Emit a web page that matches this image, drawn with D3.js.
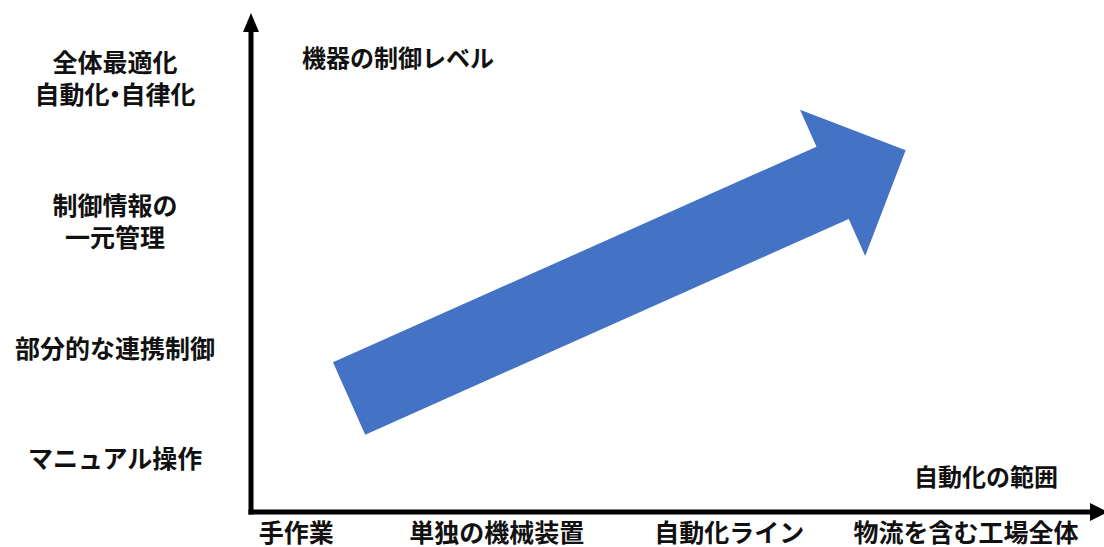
<!DOCTYPE html>
<html>
<head>
<meta charset="utf-8">
<script src="https://cdn.jsdelivr.net/npm/d3@7"></script>
<style>
  body { margin: 0; background: #fff; }
  text { font-family: "Noto Sans CJK JP", "Noto Sans", sans-serif; font-weight: bold; fill: #111; }
</style>
</head>
<body>
<div id="chart"></div>
<script>
// Categories on the horizontal axis (scope of automation) and where they sit
const xCategories = ['手作業', '単独の機械装置', '自動化ライン', '物流を含む工場全体'];
const xCategoryPos = [0.21, 1.15, 2.24, 3.35];

// Levels on the vertical axis (control level), multi-line labels split by \n
const yLevels = ['マニュアル操作', '部分的な連携制御', '制御情報の\n一元管理', '全体最適化\n自動化・自律化'];
const yLevelPos = [0.43, 1.31, 2.33, 3.47];

// Big trend arrow: start (tail centre) and end (tip) in axis units
const trendFrom = [0.46, 0.91];
const trendTo = [3.07, 2.9];

const xTitle = '自動化の範囲';
const yTitle = '機器の制御レベル';

const width = 1104;
const height = 547;
const origin = { x: 251, y: 512 };

const svg = d3.select('#chart')
    .append('svg')
    .attr('width', width)
    .attr('height', height);

// Scales
const xScale = d3.scaleLinear().domain([0, 4]).range([origin.x, 1104]);
const yScale = d3.scaleLinear().domain([0, 4]).range([origin.y, 13]);

// Axis lines with arrow heads
svg.append('line')
    .attr('x1', origin.x).attr('y1', origin.y + 2.5)
    .attr('x2', origin.x).attr('y2', 30)
    .attr('stroke', '#000').attr('stroke-width', 5);
svg.append('path')
    .attr('d', `M${origin.x - 8},32 L${origin.x + 8},32 L${origin.x},13 Z`)
    .attr('fill', '#000');

svg.append('line')
    .attr('x1', origin.x - 2.5).attr('y1', origin.y)
    .attr('x2', 1092).attr('y2', origin.y)
    .attr('stroke', '#000').attr('stroke-width', 5);
svg.append('path')
    .attr('d', `M1090,${origin.y - 9} L1090,${origin.y + 9} L1108,${origin.y} Z`)
    .attr('fill', '#000');

// X axis labels
const xAxis = d3.axisBottom(xScale)
    .tickValues(xCategoryPos)
    .tickFormat((d, i) => xCategories[i])
    .tickSize(0);

const gx = svg.append('g')
    .attr('transform', `translate(0, ${origin.y})`)
    .call(xAxis);
gx.select('.domain').remove();
gx.selectAll('text')
    .attr('y', 21)
    .attr('dy', '0.35em')
    .style('font-size', '25px')
    .style('font-family', '"Noto Sans CJK JP", sans-serif')
    .style('font-weight', 'bold')
    .attr('fill', '#111');

// Y axis labels (centred in the left margin)
const yAxis = d3.axisLeft(yScale)
    .tickValues(yLevelPos)
    .tickFormat((d, i) => yLevels[i])
    .tickSize(0);

const gy = svg.append('g')
    .attr('transform', `translate(${origin.x}, 0)`)
    .call(yAxis);
gy.select('.domain').remove();
gy.selectAll('text')
    .attr('text-anchor', 'middle')
    .style('font-size', '25px')
    .style('font-family', '"Noto Sans CJK JP", sans-serif')
    .style('font-weight', 'bold')
    .attr('fill', '#111')
    .each(function (d, i) {
        const lines = yLevels[i].split('\n');
        const t = d3.select(this).text(null).attr('dy', null);
        const lineH = 32;
        lines.forEach((ln, j) => {
            const line = t.append('tspan')
                .attr('x', -136)
                .attr('y', (j - (lines.length - 1) / 2) * lineH)
                .attr('dy', '0.35em');
            // tighten the full-width middle dot like the original
            const parts = ln.split('・');
            parts.forEach((p, k) => {
                if (k > 0) {
                    line.append('tspan').attr('dx', -7).text('・');
                    line.append('tspan').attr('dx', -7).text(p);
                } else {
                    line.append('tspan').text(p);
                }
            });
        });
    });

// Axis titles
svg.append('text')
    .attr('x', 302)
    .attr('y', 59)
    .attr('dy', '0.35em')
    .style('font-size', '24px')
    .text(yTitle);

svg.append('text')
    .attr('x', 1058)
    .attr('y', 478)
    .attr('dy', '0.35em')
    .attr('text-anchor', 'end')
    .style('font-size', '24px')
    .text(xTitle);

// Trend arrow built from its start / end points in axis units
const shaftHalf = 39.6;
const headHalf = 80;
const headLen = 80;

const p0 = [xScale(trendFrom[0]), yScale(trendFrom[1])];
const p1 = [xScale(trendTo[0]), yScale(trendTo[1])];
const dx = p1[0] - p0[0];
const dy = p1[1] - p0[1];
const len = Math.hypot(dx, dy);
const ux = dx / len, uy = dy / len;
const nx = -uy, ny = ux;
const base = [p1[0] - ux * headLen, p1[1] - uy * headLen];

const arrowPts = [
    [p0[0] - nx * shaftHalf, p0[1] - ny * shaftHalf],
    [base[0] - nx * shaftHalf, base[1] - ny * shaftHalf],
    [base[0] - nx * headHalf, base[1] - ny * headHalf],
    p1,
    [base[0] + nx * headHalf, base[1] + ny * headHalf],
    [base[0] + nx * shaftHalf, base[1] + ny * shaftHalf],
    [p0[0] + nx * shaftHalf, p0[1] + ny * shaftHalf]
];

svg.append('path')
    .attr('d', d3.line()(arrowPts) + 'Z')
    .attr('fill', '#4472C4');
</script>
</body>
</html>
